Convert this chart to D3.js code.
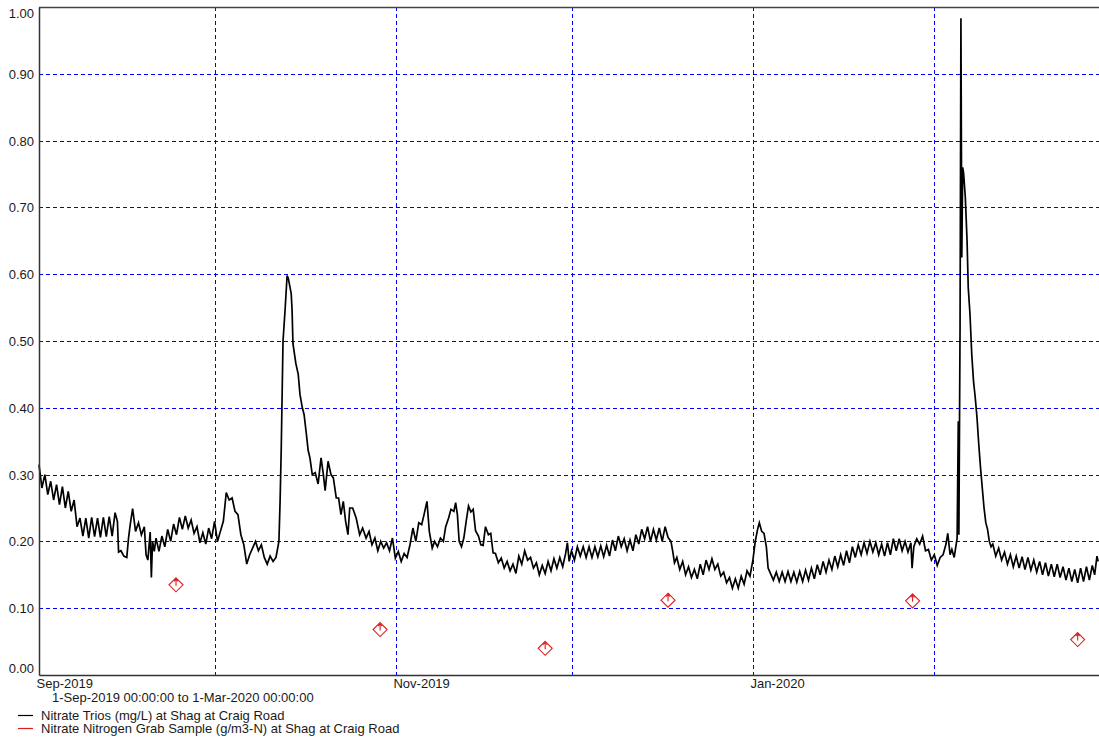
<!DOCTYPE html>
<html>
<head>
<meta charset="utf-8">
<script src="https://cdn.jsdelivr.net/npm/d3@7"></script>
<style>
  html, body { margin: 0; padding: 0; background: #fff; }
  svg { display: block; font-family: "Liberation Sans", Arial, sans-serif; }
</style>
</head>
<body>
<svg id="chart" width="1099" height="737"></svg>
<script>
// Period shown on the chart
const periodStart = "2019-09-01T00:00:00Z";
const periodEnd = "2020-03-01T00:00:00Z";

// Nitrate Trios (mg/L): [days after 1-Sep-2019, value]
const triosReadings = [
  [0,.315],[0.5,.280],[1,.300],[1.5,.270],[2,.290],[2.5,.262],[3,.285],[3.5,.255],
  [4,.282],[4.5,.250],[5,.275],[5.5,.245],[6,.262],[6.5,.222],[7,.235],[7.5,.208],
  [8,.235],[8.5,.205],[9,.236],[9.5,.207],[10,.235],[10.5,.206],[11,.236],[11.5,.207],
  [12,.237],[12.5,.208],[13,.243],[13.4,.230],[13.6,.184],[14,.186],[14.5,.178],
  [15,.176],[15.3,.205],[15.6,.226],[16,.249],[16.5,.215],[17,.228],[17.5,.210],
  [18,.222],[18.3,.180],[18.6,.172],[19,.214],[19.2,.146],[19.4,.200],[19.7,.185],
  [20,.205],[20.5,.185],[21,.208],[21.5,.192],[22,.218],[22.5,.200],[23,.226],[23.5,.210],
  [24,.236],[24.5,.218],[25,.238],[25.5,.220],[26,.232],[26.5,.212],[27,.222],[27.5,.198],
  [28,.213],[28.5,.196],[29,.220],[29.5,.204],[30,.230],[30.5,.200],[31,.215],[31.5,.230],
  [32,.273],[32.5,.262],[33,.265],[33.5,.245],[34,.240],[34.5,.210],[35,.195],[35.5,.166],
  [36,.180],[36.5,.190],[37,.200],[37.5,.186],[38,.195],[38.5,.176],[39,.166],[39.5,.178],
  [40,.170],[40.5,.176],[41,.200],[41.2,.260],[41.4,.340],[41.7,.500],[42.05,.546],
  [42.4,.598],[42.6,.594],[43.1,.571],[43.25,.546],[43.4,.496],[43.9,.466],[44.3,.450],
  [44.6,.420],[45,.400],[45.3,.390],[45.7,.360],[46,.336],[46.3,.325],[46.7,.300],
  [47.2,.303],[47.7,.286],[48.2,.325],[48.6,.300],[48.9,.276],[49.4,.320],[49.9,.300],
  [50.3,.295],[50.8,.265],[51.2,.265],[51.6,.240],[52,.260],[52.4,.230],[52.8,.210],
  [53.1,.250],[53.6,.250],[54.2,.235],[54.8,.210],[55.3,.220],[55.9,.205],[56.4,.215],
  [56.9,.195],[57.4,.205],[57.9,.186],[58.4,.200],[58.9,.190],[59.4,.198],[59.9,.186],
  [60.4,.205],[60.9,.175],[61.4,.185],[61.9,.170],[62.4,.182],[62.9,.176],[63.4,.195],
  [63.9,.220],[64.4,.200],[64.9,.228],[65.4,.225],[65.8,.240],[66.3,.260],[66.7,.215],
  [67.2,.190],[67.6,.200],[68.1,.192],[68.6,.205],[69.1,.200],[69.5,.222],[70,.235],
  [70.4,.248],[70.9,.245],[71.2,.258],[71.5,.240],[71.8,.200],[72.2,.192],[72.6,.205],
  [73,.230],[73.4,.253],[73.8,.244],[74.2,.248],[74.6,.216],[75.1,.208],[75.5,.195],
  [75.9,.194],[76.3,.222],[76.8,.210],[77.2,.212],[77.6,.183],
  [78,.182],[78.5,.168],[79,.175],[79.5,.160],[80,.170],[80.5,.156],[81,.166],[81.5,.152],
  [82,.178],[82.5,.166],[83,.186],[83.5,.172],[84,.176],[84.5,.160],[85,.168],[85.5,.150],
  [86,.164],[86.5,.152],[87,.170],[87.5,.156],[88,.174],[88.5,.160],[89,.176],[89.5,.162],
  [90,.182],[90.3,.198],[90.6,.170],[91,.186],[91.5,.172],[92,.192],[92.5,.178],
  [93,.192],[93.5,.176],[94,.192],[94.5,.176],[95,.192],[95.5,.177],[96,.193],[96.5,.177],
  [97,.194],[97.5,.178],[98,.202],[98.5,.186],[99,.208],[99.5,.192],[100,.204],[100.5,.186],
  [101,.202],[101.5,.186],[102,.210],[102.5,.196],[103,.218],[103.5,.204],[104,.222],
  [104.5,.200],[105,.218],[105.5,.202],[106,.220],[106.5,.200],[107,.222],[107.5,.206],
  [108,.200],[108.3,.185],[108.6,.168],[109,.176],[109.5,.158],[110,.170],[110.5,.150],
  [111,.162],[111.5,.146],[112,.158],[112.5,.144],[113,.166],[113.5,.150],[114,.172],
  [114.5,.158],[115,.174],[115.5,.158],[116,.166],[116.5,.148],[117,.154],[117.5,.138],
  [118,.146],[118.5,.130],[119,.144],[119.5,.130],[120,.148],[120.5,.136],[121,.156],
  [121.5,.148],[122,.172],[122.4,.200],[122.8,.218],[123.1,.228],[123.5,.215],[123.9,.212],
  [124.3,.192],[124.6,.160],[125,.152],[125.5,.142],
  [126,.154],[126.5,.140],[127,.154],[127.5,.140],[128,.155],[128.5,.140],[129,.154],
  [129.5,.139],[130,.155],[130.5,.140],[131,.157],[131.5,.142],[132,.160],[132.5,.144],
  [133,.165],[133.5,.150],[134,.170],[134.5,.154],[135,.172],[135.5,.158],[136,.178],
  [136.5,.162],[137,.180],[137.5,.164],[138,.186],[138.5,.168],[139,.192],[139.5,.176],
  [140,.195],[140.5,.180],[141,.198],[141.5,.182],[142,.200],[142.5,.184],[143,.198],
  [143.5,.180],[144,.196],[144.5,.178],[145,.198],[145.5,.180],[146,.204],[146.5,.186],
  [147,.204],[147.5,.186],[148,.200],[148.5,.184],[149,.198],[149.2,.160],[149.5,.192],
  [150,.204],[150.5,.196],[151,.208],[151.5,.186],[152,.188],[152.5,.172],[153,.180],
  [153.5,.164],[154,.176],[154.5,.180],[155,.196],[155.3,.212],[155.7,.180],[156,.188],
  [156.4,.176],[156.9,.205],[157.1,.380],[157.2,.210],[157.4,.520],[157.55,.983],
  [157.7,.625],[157.85,.760],[158,.752],[158.3,.715],[158.6,.650],[158.8,.580],
  [159.1,.540],[159.4,.480],[159.7,.440],[160,.415],[160.3,.385],[160.6,.345],
  [160.9,.310],[161.2,.280],[161.5,.250],[161.8,.228],[162.1,.218],[162.4,.200],[162.7,.192],
  [163,.196],[163.5,.178],[164,.190],[164.5,.172],[165,.184],[165.5,.166],[166,.180],
  [166.5,.162],[167,.178],[167.5,.160],[168,.177],[168.5,.158],[169,.176],[169.5,.157],
  [170,.172],[170.5,.154],[171,.170],[171.5,.150],[172,.168],[172.5,.148],[173,.166],
  [173.5,.147],[174,.166],[174.5,.146],[175,.162],[175.5,.142],[176,.160],[176.5,.140],
  [177,.158],[177.5,.138],[178,.160],[178.5,.140],[179,.162],[179.5,.142],[180,.164],
  [180.4,.150],[180.8,.178],[181,.170]
];

// Nitrate Nitrogen grab samples (g/m3-N)
const grabDates = [
  "2019-09-24T10:00:00Z", "2019-10-29T07:00:00Z", "2019-11-26T12:00:00Z",
  "2019-12-17T12:00:00Z", "2020-01-28T07:00:00Z", "2020-02-25T12:00:00Z"
];
const grabValues = [0.135, 0.068, 0.040, 0.112, 0.111, 0.053];

// Axis ticks
const yTickValues = [0, 0.1, 0.2, 0.3, 0.4, 0.5, 0.6, 0.7, 0.8, 0.9, 1.0];
const xLabelDates = ["2019-09-01T00:00:00Z", "2019-11-01T00:00:00Z", "2020-01-01T00:00:00Z"];
const xLabelTexts = ["Sep-2019", "Nov-2019", "Jan-2020"];

const legendItems = [
  "Nitrate Trios (mg/L) at Shag at Craig Road",
  "Nitrate Nitrogen Grab Sample (g/m3-N) at Shag at Craig Road"
];
const periodText = "1-Sep-2019 00:00:00 to  1-Mar-2020 00:00:00";

const svg = d3.select("#chart");
const start = new Date(periodStart), end = new Date(periodEnd);
const dayMs = 864e5;

const plot = { left: 39, right: 1104, top: 7, bottom: 675 };
const x = d3.scaleUtc().domain([start, end]).range([plot.left, plot.right]);
const y = d3.scaleLinear().domain([0, 1]).range([plot.bottom, plot.top]);

const gridColor = "#0000ff";
const red = "#dc1e1e";
const textColor = "#1a1a1a";

// Gridlines (pixel-snapped, dashed blue)
const grid = svg.append("g").attr("shape-rendering", "crispEdges");
grid.selectAll("line.h")
  .data(yTickValues.filter(v => v > 0 && v < 1))
  .join("line")
  .attr("x1", plot.left).attr("x2", plot.right)
  .attr("y1", d => Math.round(y(d)) + 0.5).attr("y2", d => Math.round(y(d)) + 0.5)
  .attr("stroke", gridColor).attr("stroke-width", 1)
  .attr("stroke-dasharray", "4,3");
grid.selectAll("line.v")
  .data(d3.utcMonth.range(d3.utcMonth.offset(start, 1), end))
  .join("line")
  .attr("x1", d => Math.round(x(d)) + 0.5).attr("x2", d => Math.round(x(d)) + 0.5)
  .attr("y1", plot.top).attr("y2", plot.bottom)
  .attr("stroke", gridColor).attr("stroke-width", 1)
  .attr("stroke-dasharray", "4,3");

// Trios series
const line = d3.line()
  .x(d => x(new Date(start.getTime() + d[0] * dayMs)))
  .y(d => y(d[1]));
svg.append("path")
  .datum(triosReadings)
  .attr("d", line)
  .attr("fill", "none")
  .attr("stroke", "#000")
  .attr("stroke-width", 1.7)
  .attr("stroke-linejoin", "miter");

// Grab sample markers
const grabs = grabDates.map((d, i) => ({ date: new Date(d), value: grabValues[i] }));
const marker = svg.append("g").selectAll("g")
  .data(grabs)
  .join("g")
  .attr("transform", d => `translate(${x(d.date)},${y(d.value)})`)
  .attr("fill", "none").attr("stroke", red).attr("stroke-width", 1.1);
marker.append("path").attr("d", "M0,-7L7,0L0,7L-7,0Z").attr("fill", "#fff");
marker.append("path").attr("d", "M0,-6V1M-2,-3.5L0,-6L2,-3.5");

// Frame
svg.append("line").attr("x1", plot.left).attr("x2", 1099)
  .attr("y1", plot.top + 0.5).attr("y2", plot.top + 0.5)
  .attr("stroke", "#444").attr("stroke-width", 1.5);

// Y axis
const yAxis = d3.axisLeft(y).tickValues(yTickValues).tickSize(0).tickPadding(5)
  .tickFormat(d3.format(".2f"));
const yg = svg.append("g").attr("transform", `translate(${plot.left},0)`).call(yAxis);
yg.select(".domain").attr("stroke", "#333").attr("stroke-width", 1.5);
yg.selectAll("text")
  .attr("fill", textColor)
  .style("font-size", "13px")
  .style("font-family", "'Liberation Sans', Arial, sans-serif")
  .attr("dy", null)
  .attr("dominant-baseline", "central")
  .attr("y", d => d === 0 ? -7 : d === 1 ? 6 : 0);

// X axis
const xAxis = d3.axisBottom(x)
  .tickValues(xLabelDates.map(d => new Date(d)))
  .tickSize(0).tickPadding(4)
  .tickFormat((d, i) => xLabelTexts[i]);
const xg = svg.append("g").attr("transform", `translate(0,${plot.bottom})`).call(xAxis);
xg.select(".domain").attr("stroke", "#333").attr("stroke-width", 1.5);
xg.selectAll("text")
  .attr("fill", textColor)
  .style("font-size", "13px")
  .style("font-family", "'Liberation Sans', Arial, sans-serif")
  .attr("text-anchor", "start")
  .attr("x", -3);

// Period caption
svg.append("text")
  .attr("x", 52).attr("y", 697)
  .attr("dominant-baseline", "central")
  .attr("fill", textColor).style("font-size", "13px")
  .text(periodText);

// Legend
const legendColors = ["#000", red];
const legend = svg.append("g").selectAll("g")
  .data(legendItems)
  .join("g")
  .attr("transform", (d, i) => `translate(0,${715 + i * 13})`);
legend.append("line")
  .attr("x1", 18).attr("x2", 33).attr("y1", 0.5).attr("y2", 0.5)
  .attr("stroke", (d, i) => legendColors[i]).attr("stroke-width", 1.2);
legend.append("text")
  .attr("x", 41).attr("y", 0)
  .attr("dominant-baseline", "central")
  .attr("fill", textColor).style("font-size", "13px")
  .text(d => d);
</script>
</body>
</html>
